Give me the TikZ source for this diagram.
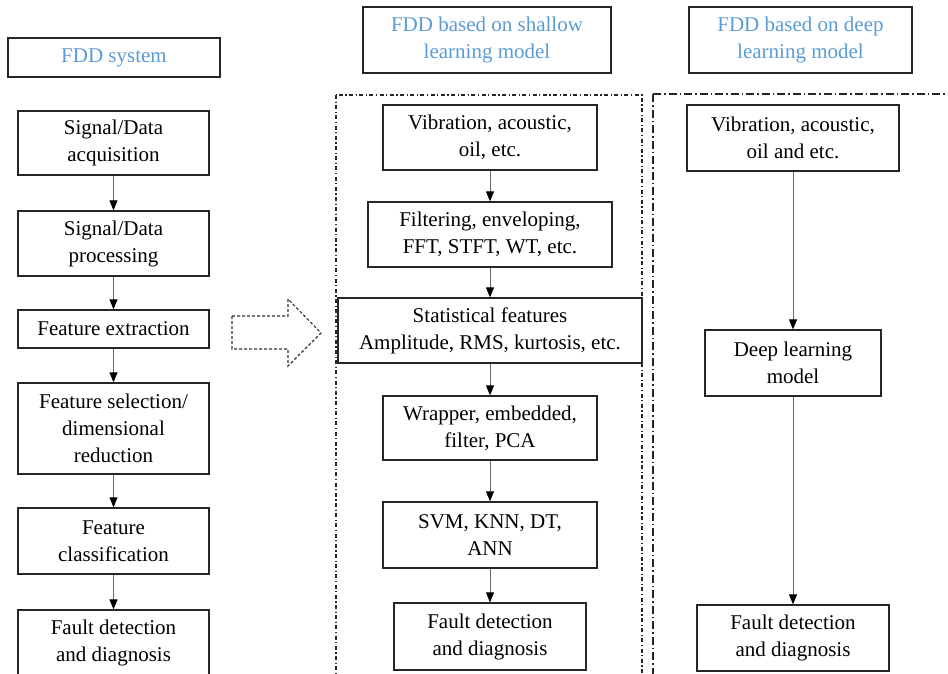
\documentclass[tikz,border=0pt]{standalone}
\usepackage{fontspec}
\setmainfont{Liberation Serif}
\usetikzlibrary{arrows.meta}

\definecolor{headblue}{RGB}{91,155,213}

\begin{document}
\begin{tikzpicture}[x=1pt, y=-1pt,
    box/.style={draw=black!85, line width=1.3pt, align=center, inner sep=0pt, font=\fontsize{21}{27}\selectfont},
    head/.style={box, text=headblue},
    flow/.style={draw=black!60, line width=0.9pt, -{Triangle[black, length=10pt, width=8pt]}},
    frame/.style={black!85, line width=1.2pt}]

        \clip (0,0) rectangle (948,673);

        % Headers
        \node[head, minimum width=212, minimum height=39] (hsys) at (114,57.5) {FDD system};
        \node[head, minimum width=248, minimum height=66] (hshal) at (487,40) {FDD based on shallow\\learning model};
        \node[head, minimum width=223, minimum height=66] (hdeep) at (800.5,40) {FDD based on deep\\learning model};

        % dash dot frames
        \draw[frame, dash pattern=on 4pt off 2.5pt on 1.2pt off 2.5pt] (336,95) rectangle (642,690);
        \draw[frame, dash pattern=on 8pt off 3pt on 1.5pt off 3pt] (653,94) rectangle (960,690);

        % FDD system (left)
        \node[box, minimum width=191, minimum height=64] (sacq) at (113.5,143) {Signal/Data\\acquisition};
        \node[box, minimum width=191, minimum height=65] (sproc) at (113.5,243.5) {Signal/Data\\processing};
        \node[box, minimum width=191, minimum height=38] (fext) at (113.5,329) {Feature extraction};
        \node[box, minimum width=191, minimum height=91] (fsel) at (113.5,428.5) {Feature selection/\\dimensional\\reduction};
        \node[box, minimum width=191, minimum height=66] (fcls) at (113.5,541) {Feature\\classification};
        \node[box, minimum width=191, minimum height=66] (fdd) at (113.5,643) {Fault detection\\and diagnosis};

        % shallow learning (middle)
        \node[box, minimum width=214, minimum height=65] (shsig) at (490,137.5) {Vibration, acoustic,\\oil, etc.};
        \node[box, minimum width=244, minimum height=65] (shproc) at (490,234.5) {Filtering, enveloping,\\FFT, STFT, WT, etc.};
        \node[box, minimum width=304, minimum height=65] (shfeat) at (490,330.5) {Statistical features\\Amplitude, RMS, kurtosis, etc.};
        \node[box, minimum width=214, minimum height=64] (shsel) at (490,428) {Wrapper, embedded,\\filter, PCA};
        \node[box, minimum width=214, minimum height=66] (shcls) at (490,535) {SVM, KNN, DT,\\ANN};
        \node[box, minimum width=192, minimum height=67] (shfdd) at (490,636.5) {Fault detection\\and diagnosis};

        % deep learning (right)
        \node[box, minimum width=212, minimum height=66] (dpsig) at (793,138) {Vibration, acoustic,\\oil and etc.};
        \node[box, minimum width=176, minimum height=66] (dpmod) at (793,363) {Deep learning\\model};
        \node[box, minimum width=192, minimum height=66] (dpfdd) at (793,638) {Fault detection\\and diagnosis};

        % connectors
        \foreach \a/\b in {sacq/sproc, sproc/fext, fext/fsel, fsel/fcls, fcls/fdd,
                shsig/shproc, shproc/shfeat, shfeat/shsel, shsel/shcls, shcls/shfdd,
                dpsig/dpmod, dpmod/dpfdd} {
            \draw[flow] (\a) -- (\b);
        }

        % dashed block arrow
        \draw[black!80, line width=1.1pt, dash pattern=on 3pt off 2pt]
            (232,316) -- (288,316) -- (288,299) -- (321,333) -- (288,366) -- (288,349) -- (232,349) -- cycle;

    \end{tikzpicture}
\end{document}
